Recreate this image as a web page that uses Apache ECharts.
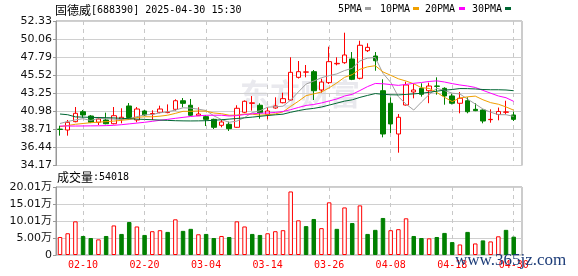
<!DOCTYPE html>
<html><head><meta charset="utf-8">
<script src="https://cdn.jsdelivr.net/npm/echarts@6.0.0/dist/echarts.min.js"></script>
<style>html,body{margin:0;padding:0;background:#fff}#c{width:578px;height:276px}</style>
</head><body><div id="c"></div>
<script>
const dates = ['02-05','02-06','02-07','02-10','02-11','02-12','02-13','02-14','02-17','02-18','02-19','02-20','02-21','02-24','02-25','02-26','02-27','02-28','03-03','03-04','03-05','03-06','03-07','03-10','03-11','03-12','03-13','03-14','03-17','03-18','03-19','03-20','03-21','03-24','03-25','03-26','03-27','03-28','03-31','04-01','04-02','04-03','04-07','04-08','04-09','04-10','04-11','04-14','04-15','04-16','04-17','04-18','04-21','04-22','04-23','04-24','04-25','04-28','04-29','04-30'];
const opens = [38.74,38.63,39.68,40.93,40.39,39.60,39.89,39.42,39.97,41.65,39.89,41.02,40.64,40.86,40.82,41.23,42.31,41.74,40.43,40.31,39.97,39.22,39.35,38.97,40.86,41.98,41.74,40.60,41.40,42.06,42.40,45.25,45.90,45.96,43.66,44.58,46.95,47.09,47.56,45.13,48.60,47.93,43.57,41.99,38.13,41.77,43.41,43.87,43.57,44.16,43.87,42.91,41.99,42.31,41.23,41.14,39.93,40.58,40.86,40.52];
const closes = [38.70,39.60,40.73,40.52,39.60,40.01,39.42,40.43,40.23,40.20,41.27,40.52,40.70,41.27,40.86,42.31,41.98,40.48,40.64,39.97,38.97,39.64,38.80,41.36,42.24,42.05,40.81,41.02,41.65,42.57,45.88,45.96,45.93,43.57,44.66,47.22,47.01,48.06,45.00,49.28,49.02,47.34,38.13,39.39,40.23,44.29,43.66,43.12,44.16,44.12,42.91,41.99,42.62,40.93,41.06,39.76,39.97,40.96,40.90,39.97];
const lows = [37.92,37.92,39.60,40.18,39.50,39.26,39.35,39.35,39.47,40.15,39.60,40.40,39.89,40.73,40.73,41.06,41.48,40.40,40.40,39.13,38.76,38.97,38.51,38.90,40.75,41.06,40.05,39.97,41.30,41.98,42.30,45.10,45.25,42.40,43.32,44.41,46.76,46.95,44.90,45.00,48.43,46.08,37.71,38.26,35.78,41.70,42.61,42.82,42.00,43.07,41.81,41.85,40.73,40.73,41.00,39.47,39.55,39.85,40.60,39.76];
const highs = [39.17,39.89,41.52,41.14,40.50,40.27,40.81,41.52,41.36,42.02,41.52,41.15,41.11,41.69,41.85,42.49,42.65,42.53,41.48,40.48,40.05,39.89,39.68,41.74,42.35,42.90,41.99,41.48,42.74,43.32,47.77,47.30,46.80,46.17,45.08,49.10,47.77,50.86,48.43,49.85,49.53,48.43,45.00,42.74,40.64,44.70,44.41,44.50,44.58,45.25,44.00,43.20,43.41,42.74,41.99,41.23,41.23,41.45,42.31,40.93];
const volumes = [53000,64000,99000,56000,50000,46000,56000,87000,62000,97000,84000,59000,70000,73000,68000,105000,71000,77000,61000,62000,50000,56000,53000,99000,84000,62000,59000,64000,70000,73000,187000,102000,85000,106000,79000,155000,77000,140000,94000,146000,62000,74000,109000,73000,76000,108000,56000,50000,49000,53000,65000,38000,31000,68000,34000,43000,40000,55000,74000,54018];
const prevCloseBefore = 38.45;
const ma5 = [39.45,39.70,39.90,40.05,39.83,40.09,40.06,40.00,39.94,40.06,40.31,40.53,40.58,40.79,40.92,41.13,41.42,41.38,41.25,41.08,40.41,39.94,39.60,39.75,40.20,40.82,41.05,41.50,41.55,41.62,42.39,43.42,44.40,44.78,45.20,45.47,45.68,46.10,46.39,47.31,47.67,47.74,45.75,44.63,42.82,41.88,41.14,42.14,43.09,43.87,43.59,43.26,43.16,42.51,41.90,41.27,40.87,40.56,40.55,40.34];
const ma10 = [39.05,39.20,39.35,39.45,39.55,39.62,39.68,39.75,39.85,39.95,40.20,40.30,40.29,40.37,40.49,40.72,40.98,40.98,41.02,41.00,40.77,40.68,40.49,40.50,40.64,40.62,40.50,40.55,40.65,40.91,41.61,42.24,42.95,43.17,43.41,43.93,44.55,45.25,45.59,46.26,46.57,46.71,45.93,45.51,45.07,44.78,44.44,43.95,43.86,43.35,42.74,42.20,42.65,42.80,42.89,42.43,42.07,41.87,41.53,41.12];
const ma20 = [39.13,39.13,39.13,39.14,39.15,39.16,39.18,39.22,39.30,39.40,39.50,39.60,39.72,39.85,39.97,40.10,40.22,40.33,40.42,40.48,40.49,40.49,40.39,40.44,40.57,40.67,40.74,40.77,40.84,40.96,41.19,41.46,41.72,41.84,42.03,42.28,42.53,42.90,43.12,43.59,44.09,44.48,44.44,44.34,44.24,44.36,44.50,44.60,44.73,44.81,44.66,44.46,44.29,44.16,43.98,43.61,43.26,42.91,42.69,42.23];
const ma30 = [40.64,40.55,40.28,40.25,40.22,40.20,40.18,40.15,40.10,40.05,40.00,39.96,39.92,39.88,39.84,39.80,39.78,39.77,39.78,39.80,39.85,39.92,40.00,40.08,40.16,40.25,40.35,40.45,40.54,40.62,40.86,41.07,41.24,41.35,41.52,41.76,42.01,42.26,42.42,42.73,42.98,43.21,43.12,43.06,43.04,43.11,43.17,43.25,43.37,43.51,43.64,43.72,43.84,43.83,43.79,43.72,43.69,43.69,43.66,43.57];
const maNames = ['5PMA','10PMA','20PMA','30PMA'];
const priceAxis = {min: 34.17, max: 52.33, step: 2.27};
const volAxis = {min: 0, max: 200100, step: 50025};

const RED = '#ff0000', GREEN = '#008000';
const maColors = ['#a0a0a0', '#f0a000', '#ff00ff', '#006633'];
const labelEvery = (i) => i % 8 === 3;
const MONO = 'DejaVu Sans Mono';
const CJK = 'Noto Sans CJK SC';

const candleData = dates.map((d, i) => [opens[i], closes[i], lows[i], highs[i]]);
const volData = volumes.map((v, i) => {
  const prev = i === 0 ? prevCloseBefore : closes[i - 1];
  const up = closes[i] >= prev;
  return {value: v, itemStyle: up ? {color: '#fff', borderColor: RED, borderWidth: 1} : {color: GREEN, borderColor: GREEN, borderWidth: 1}};
});

const chart = echarts.init(document.getElementById('c'), null, {renderer: 'canvas'});
const gridMain = {top: 21, height: 144.5};
const gridVol = {top: 187, height: 68};
const innerLeft = 60, innerWidth = 453.71;

const legendX = [338, 380, 425, 472];
const legendBoxX = [365, 413, 459, 505];
const graphics = [
  {type: 'text', x: 55, y: 10, z: 10, style: {text: '{a|固德威}{b|[688390] 2025-04-30 15:30}', verticalAlign: 'middle', rich: {a: {fontFamily: CJK, fontSize: 12, fill: '#000'}, b: {fontFamily: MONO, fontSize: 10, fill: '#000'}}}},
  {type: 'text', x: 57, y: 177.5, z: 10, style: {text: '{a|成交量}{b|:' + volumes[volumes.length - 1] + '}', verticalAlign: 'middle', rich: {a: {fontFamily: CJK, fontSize: 12, fill: '#000'}, b: {fontFamily: MONO, fontSize: 10, fill: '#000'}}}},
  {type: 'text', x: 240, y: 94, z: 0, style: {text: '东方财富', fill: '#e9e9ee', font: 'bold 30px "Noto Sans CJK SC"', verticalAlign: 'middle'}},
  {type: 'text', x: 455, y: 261, z: 20, style: {text: 'www.365jz.com', fill: '#1c3c78', font: '17px "Liberation Serif"', verticalAlign: 'middle'}}
];
maNames.forEach((n, k) => {
  graphics.push({type: 'text', x: legendX[k], y: 9, z: 10, style: {text: n, fill: '#000', font: '10px "' + MONO + '"', verticalAlign: 'middle'}});
  graphics.push({type: 'rect', z: 10, shape: {x: legendBoxX[k], y: 7, width: 6, height: 3}, style: {fill: maColors[k]}});
});

const yLabelStyle = {color: '#111', fontFamily: 'DejaVu Sans, Noto Sans CJK SC', fontSize: 11, margin: 4};
const frameAxisLine = {show: true, lineStyle: {color: '#999'}};
const frameTick = {show: true, length: 3, lineStyle: {color: '#999'}};
const hSplit = {show: true, lineStyle: {color: '#d0d0d0', width: 1}};
const vSplit = {show: true, interval: (i) => labelEvery(i), lineStyle: {color: '#c8c8c8', type: [4, 4]}};

chart.setOption({
  animation: false,
  backgroundColor: '#fff',
  grid: [
    {left: 56, right: 56, top: gridMain.top, height: gridMain.height, show: true, borderColor: '#999', borderWidth: 1},
    {left: innerLeft, width: innerWidth, top: gridMain.top, height: gridMain.height},
    {left: 56, right: 56, top: gridVol.top, height: gridVol.height, show: true, borderColor: '#999', borderWidth: 1},
    {left: innerLeft, width: innerWidth, top: gridVol.top, height: gridVol.height}
  ],
  xAxis: [
    {gridIndex: 0, type: 'value', show: false, min: 0, max: 1},
    {gridIndex: 1, type: 'category', data: dates, boundaryGap: false, axisLine: {show: false}, axisTick: {show: false}, axisLabel: {show: false}, splitLine: vSplit},
    {gridIndex: 2, type: 'value', show: false, min: 0, max: 1},
    {gridIndex: 3, type: 'category', data: dates, boundaryGap: false, axisLine: {show: false}, axisTick: {show: false},
      axisLabel: {interval: (i) => labelEvery(i), color: RED, fontFamily: MONO, fontSize: 10, margin: 5}, splitLine: vSplit}
  ],
  yAxis: [
    {gridIndex: 0, type: 'value', min: priceAxis.min, max: priceAxis.max, interval: priceAxis.step, axisLine: frameAxisLine, axisTick: frameTick,
      axisLabel: Object.assign({formatter: (v) => v.toFixed(2)}, yLabelStyle), splitLine: hSplit},
    {gridIndex: 1, type: 'value', min: priceAxis.min, max: priceAxis.max, show: false, splitLine: {show: false}},
    {gridIndex: 2, type: 'value', min: volAxis.min, max: volAxis.max, interval: volAxis.step, axisLine: frameAxisLine, axisTick: frameTick,
      axisLabel: Object.assign({formatter: (v) => v === 0 ? '0' : (Math.round(v / 100) / 100).toFixed(2) + '万'}, yLabelStyle), splitLine: hSplit},
    {gridIndex: 3, type: 'value', min: volAxis.min, max: volAxis.max, show: false, splitLine: {show: false}}
  ],
  series: [
    {type: 'candlestick', xAxisIndex: 1, yAxisIndex: 1, data: candleData, barWidth: 5, clip: false,
      itemStyle: {color: '#fff', color0: GREEN, borderColor: RED, borderColor0: GREEN, borderWidth: 1}},
    ...[ma5, ma10, ma20, ma30].map((arr, k) => ({type: 'line', name: maNames[k], xAxisIndex: 1, yAxisIndex: 1, data: arr, symbol: 'none', clip: false,
      lineStyle: {color: maColors[k], width: 1}, silent: true})),
    {type: 'bar', xAxisIndex: 3, yAxisIndex: 3, data: volData, barWidth: 4.5, clip: false}
  ],
  graphic: graphics
});
</script></body></html>
